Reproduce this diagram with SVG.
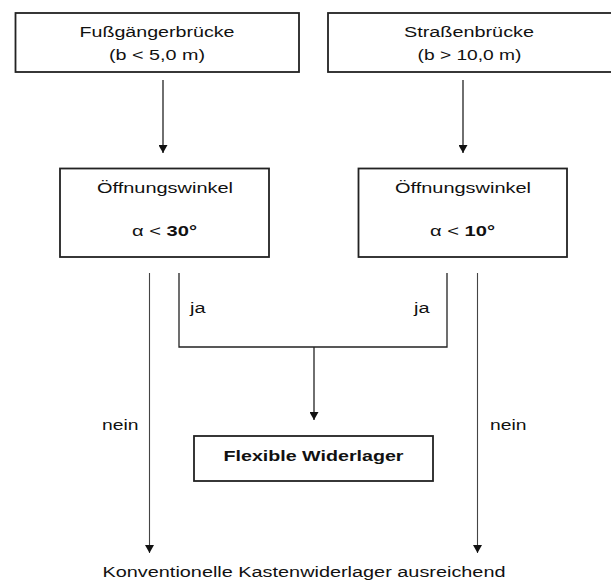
<svg xmlns="http://www.w3.org/2000/svg" width="611" height="581" viewBox="0 0 611 581">
<defs>
<style>
.box{fill:#fff;stroke:#222;stroke-width:1.8}
.t{font-family:"Liberation Sans",Arial,sans-serif;font-size:15.5px;fill:#111}
.m{text-anchor:middle}
.b{font-weight:bold}
.c{fill:none;stroke:#222;stroke-width:1.3}
.n{fill:none;stroke:#444;stroke-width:1.1}
</style>
<marker id="ah" viewBox="0 0 8 9" refX="8" refY="4.5" markerWidth="8" markerHeight="9" markerUnits="userSpaceOnUse" orient="auto">
<path d="M0,0 L8,4.5 L0,9 z" fill="#111"/>
</marker>
</defs>
<rect width="611" height="581" fill="#fff"/>
<g id="connectors">
<line class="c" x1="163" y1="80" x2="163" y2="153" marker-end="url(#ah)"/>
<line class="c" x1="463" y1="80" x2="463" y2="153" marker-end="url(#ah)"/>
<line class="n" x1="149.5" y1="273" x2="149.5" y2="553" marker-end="url(#ah)"/>
<line class="n" x1="477.5" y1="273" x2="477.5" y2="553" marker-end="url(#ah)"/>
<polyline class="c" points="179,273 179,347 447,347 447,273"/>
<line class="c" x1="314" y1="347" x2="314" y2="420" marker-end="url(#ah)"/>
<text class="t" x="190" y="313" textLength="15.5" lengthAdjust="spacingAndGlyphs">ja</text>
<text class="t" x="414" y="313" textLength="15.5" lengthAdjust="spacingAndGlyphs">ja</text>
<text class="t" x="102" y="430" textLength="36.5" lengthAdjust="spacingAndGlyphs">nein</text>
<text class="t" x="490" y="430" textLength="36.5" lengthAdjust="spacingAndGlyphs">nein</text>
</g>
<g id="fussgaenger">
<rect class="box" x="15.5" y="13" width="283.5" height="59"/>
<text class="t m" x="157" y="37" textLength="155" lengthAdjust="spacingAndGlyphs">Fußgängerbrücke</text>
<text class="t m" x="157" y="60" textLength="96" lengthAdjust="spacingAndGlyphs">(b &lt; 5,0 m)</text>
</g>
<g id="strassen">
<rect class="box" x="328" y="13" width="290" height="59"/>
<text class="t m" x="469" y="37" textLength="130" lengthAdjust="spacingAndGlyphs">Straßenbrücke</text>
<text class="t m" x="469.5" y="60" textLength="104" lengthAdjust="spacingAndGlyphs">(b &gt; 10,0 m)</text>
</g>
<g id="winkel1">
<rect class="box" x="60" y="168.5" width="209" height="88.5"/>
<text class="t m" x="165" y="193" textLength="136" lengthAdjust="spacingAndGlyphs">Öffnungswinkel</text>
<text class="t m" x="164.5" y="236" textLength="65" lengthAdjust="spacingAndGlyphs">α &lt; <tspan class="b">30°</tspan></text>
</g>
<g id="winkel2">
<rect class="box" x="358.5" y="168.5" width="208.5" height="88.5"/>
<text class="t m" x="463" y="193" textLength="136" lengthAdjust="spacingAndGlyphs">Öffnungswinkel</text>
<text class="t m" x="462.5" y="236" textLength="65" lengthAdjust="spacingAndGlyphs">α &lt; <tspan class="b">10°</tspan></text>
</g>
<g id="flexibel">
<rect class="box" x="194" y="436" width="239" height="45"/>
<text class="t m b" x="313.5" y="461" textLength="180" lengthAdjust="spacingAndGlyphs">Flexible Widerlager</text>
</g>
<g id="konventionell">
<text class="t m" x="304" y="577" textLength="403" lengthAdjust="spacingAndGlyphs">Konventionelle Kastenwiderlager ausreichend</text>
</g>
</svg>
